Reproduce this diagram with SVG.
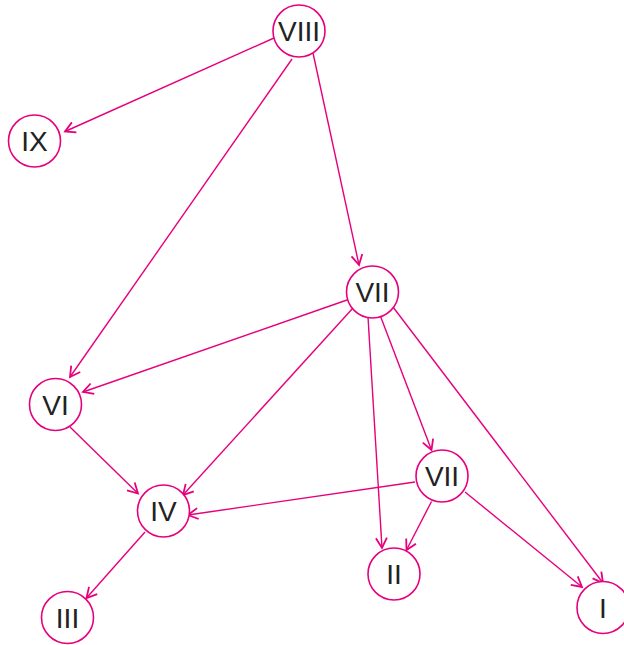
<svg xmlns="http://www.w3.org/2000/svg" width="624" height="645" viewBox="0 0 624 645">
<style>
.n circle{fill:#fff;stroke:#e6007e;stroke-width:1.6}
.n text{font-family:"Liberation Sans",Arial,sans-serif;font-size:28px;fill:#222;text-anchor:middle}
.e line{stroke:#e6007e;stroke-width:1.4;fill:none;marker-end:url(#ah)}
</style>
<defs>
<marker id="ah" markerUnits="userSpaceOnUse" markerWidth="14" markerHeight="14" viewBox="-12 -7 14 14" refX="0" refY="0" orient="auto">
<path d="M-10,-5.5 L0,0 L-10,5.5" fill="none" stroke="#e6007e" stroke-width="1.8"/>
</marker>
</defs>
<rect width="624" height="645" fill="#fff"/>
<g id="edges" class="e">
<line x1="274" y1="38" x2="65" y2="131.5"/>
<line x1="292" y1="59" x2="70" y2="377"/>
<line x1="313" y1="53" x2="359" y2="265"/>
<line x1="347" y1="300" x2="83" y2="392"/>
<line x1="353" y1="308" x2="183" y2="495"/>
<line x1="368" y1="317" x2="382" y2="548"/>
<line x1="380" y1="315" x2="431.5" y2="450"/>
<line x1="393" y1="307" x2="603" y2="583"/>
<line x1="70" y1="427" x2="138" y2="493.5"/>
<line x1="415" y1="482" x2="188" y2="515"/>
<line x1="431.5" y1="501.5" x2="406.5" y2="550"/>
<line x1="465" y1="492" x2="582" y2="587"/>
<line x1="145" y1="532" x2="86.5" y2="598"/>
</g>
<g id="n-VIII" class="n"><circle cx="299" cy="31" r="26"/><text x="299" y="41">VIII</text></g>
<g id="n-IX" class="n"><circle cx="34.5" cy="141" r="26"/><text x="34.5" y="151">IX</text></g>
<g id="n-VII-a" class="n"><circle cx="372.5" cy="292" r="26"/><text x="372.5" y="302">VII</text></g>
<g id="n-VI" class="n"><circle cx="55.5" cy="404.5" r="26"/><text x="55.5" y="414.5">VI</text></g>
<g id="n-VII-b" class="n"><circle cx="442" cy="476" r="26"/><text x="442" y="486">VII</text></g>
<g id="n-IV" class="n"><circle cx="163.5" cy="511" r="26"/><text x="163.5" y="521">IV</text></g>
<g id="n-II" class="n"><circle cx="394" cy="574" r="26"/><text x="394" y="584">II</text></g>
<g id="n-III" class="n"><circle cx="67.5" cy="617.5" r="26"/><text x="67.5" y="627.5">III</text></g>
<g id="n-I" class="n"><circle cx="603" cy="607.5" r="26"/><text x="603" y="617.5">I</text></g>
</svg>
